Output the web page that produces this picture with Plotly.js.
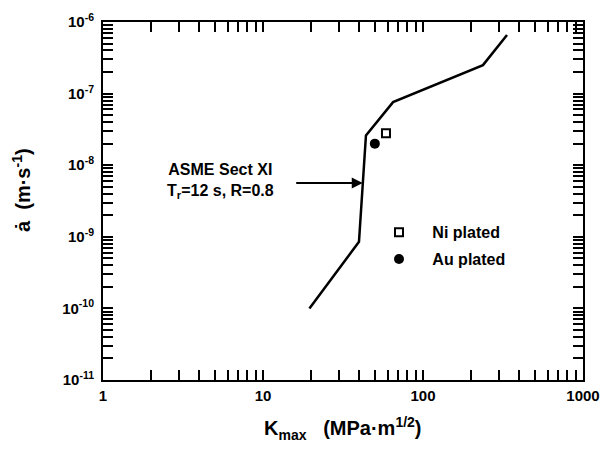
<!DOCTYPE html>
<html>
<head>
<meta charset="utf-8">
<script src="https://cdn.plot.ly/plotly-3.0.1.min.js"></script>
<style>html,body{margin:0;padding:0;background:#fff;}#chart{width:604px;height:449px;}</style>
</head>
<body>
<div id="chart"></div>
<script>
// ASME Sect XI reference curve
const curveK = [19.5, 39.8, 44, 65, 237, 335];
const curveRate = [1.0e-10, 8.5e-10, 2.6e-8, 7.6e-8, 2.5e-7, 6.6e-7];
// Data points
const niK = [58.7];
const niRate = [2.8e-8];
const auK = [50];
const auRate = [2.0e-8];
// Tick labels
const xTickVals = [1, 10, 100, 1000];
const xTickText = ['1', '10', '100', '1000'];
const yTickVals = [1e-11, 1e-10, 1e-9, 1e-8, 1e-7, 1e-6];
const yTickText = ['10<sup>-11</sup>', '10<sup>-10</sup>', '10<sup>-9</sup>', '10<sup>-8</sup>', '10<sup>-7</sup>', '10<sup>-6</sup>'];

// minor tick positions (2..9 within each decade)
function minorTicks(decades) {
  const out = [];
  decades.slice(0, -1).forEach(d => { for (let m = 2; m <= 9; m++) out.push(d * m); });
  return out;
}

const FONT = 'Liberation Sans, Arial, sans-serif';
const TICKFONT = {family: FONT, size: 15, color: '#000', weight: 'bold'};
const TITLEFONT = {family: FONT, size: 20, color: '#000', weight: 'bold'};

const traces = [
  {x: curveK, y: curveRate, mode: 'lines', line: {color: '#000', width: 2.5}, showlegend: false, hoverinfo: 'skip'},
  {x: niK, y: niRate, mode: 'markers', name: '\u00a0\u00a0\u00a0Ni plated', legendgroup: 'a',
   marker: {symbol: 'square-open', size: 8, color: '#000', line: {width: 2, color: '#000'}}},
  {x: auK, y: auRate, mode: 'markers', name: '\u00a0\u00a0\u00a0Au plated', legendgroup: 'b',
   marker: {symbol: 'circle', size: 10, color: '#000'}},
  // invisible copies so the label-only overlay axes are drawn
  {x: curveK, y: curveRate, xaxis: 'x2', yaxis: 'y', mode: 'lines', line: {width: 0, color: 'rgba(0,0,0,0)'}, opacity: 0, showlegend: false, hoverinfo: 'skip'},
  {x: curveK, y: curveRate, xaxis: 'x', yaxis: 'y2', mode: 'lines', line: {width: 0, color: 'rgba(0,0,0,0)'}, opacity: 0, showlegend: false, hoverinfo: 'skip'}
];

// frame axes: line + inside ticks, no labels
const frameAxis = {
  type: 'log', showgrid: true, gridcolor: 'rgba(0,0,0,0)', zeroline: false,
  showline: true, linecolor: '#000', linewidth: 2, mirror: 'allticks',
  tickmode: 'array', showticklabels: false,
  ticks: 'inside', ticklen: 10, tickwidth: 2, tickcolor: '#000'
};
const minorCommon = {tickmode: 'array', ticks: 'inside', ticklen: 5, tickwidth: 2, tickcolor: '#000', showgrid: false};
// label axes: overlay, labels only
const labelAxis = {
  type: 'log', showgrid: false, zeroline: false, showline: false, ticks: '',
  tickmode: 'array', tickfont: TICKFONT
};

const layout = {
  width: 604, height: 449,
  margin: {l: 103, r: 21, t: 22, b: 69},
  paper_bgcolor: '#fff', plot_bgcolor: '#fff',
  font: {family: FONT, color: '#000'},
  xaxis: Object.assign({}, frameAxis, {
    range: [0, 3], tickvals: xTickVals,
    minor: Object.assign({}, minorCommon, {tickvals: minorTicks(xTickVals)})
  }),
  yaxis: Object.assign({}, frameAxis, {
    range: [-11, -6], tickvals: yTickVals,
    minor: Object.assign({}, minorCommon, {tickvals: minorTicks(yTickVals)})
  }),
  xaxis2: Object.assign({}, labelAxis, {
    overlaying: 'x', anchor: 'y', side: 'bottom',
    range: [0, 3], tickvals: xTickVals, ticktext: xTickText, ticklabelstandoff: 5
  }),
  yaxis2: Object.assign({}, labelAxis, {
    overlaying: 'y', anchor: 'x', side: 'left',
    range: [-11, -6], tickvals: yTickVals, ticktext: yTickText, ticklabelstandoff: 8
  }),
  legend: {
    x: 0.575, y: 0.46, xanchor: 'left', yanchor: 'top',
    bgcolor: 'rgba(0,0,0,0)', borderwidth: 0,
    traceorder: 'grouped', tracegroupgap: 3,
    font: {family: FONT, size: 16, color: '#000', weight: 'bold'}
  },
  annotations: [
    {xref: 'paper', yref: 'paper', x: (220 - 103) / 480, y: 1 - (181 - 22) / 358,
     xanchor: 'center', yanchor: 'middle',
     text: 'ASME Sect XI<br>T<sub>r</sub>=12 s, R=0.8', showarrow: false, align: 'center',
     font: {family: FONT, size: 16, color: '#000', weight: 'bold'}},
    {x: Math.log10(42), y: -8.25, xref: 'x', yref: 'y', text: '', showarrow: true,
     ax: -68, ay: 0, arrowhead: 2, arrowsize: 1.1, arrowwidth: 2, arrowcolor: '#000'},
    // axis titles
    {xref: 'paper', yref: 'paper', x: 0.5, y: 1 - (428 - 22) / 358, xanchor: 'center', yanchor: 'middle',
     text: 'K<sub>max</sub>\u00a0\u00a0\u00a0(MPa·m<sup>1/2</sup>)', showarrow: false, font: TITLEFONT},
    {xref: 'paper', yref: 'paper', x: (22 - 103) / 480, y: 1 - (190 - 22) / 358, xanchor: 'center', yanchor: 'middle',
     textangle: -90, text: 'ȧ\u00a0\u00a0(m·s<sup>-1</sup>)', showarrow: false,
     font: {family: FONT, size: 20, color: '#000', weight: 'bold'}}
  ]
};

Plotly.newPlot('chart', traces, layout, {staticPlot: true, displayModeBar: false});
</script>
</body>
</html>
